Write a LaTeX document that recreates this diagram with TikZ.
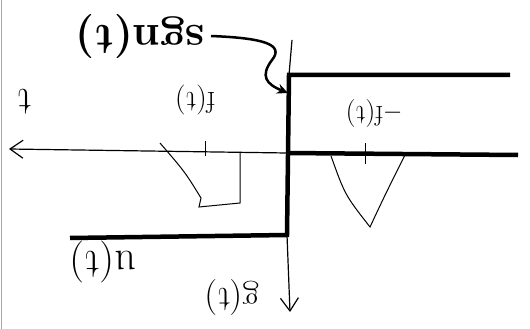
\documentclass[tikz,border=0pt]{standalone}
\usetikzlibrary{arrows.meta}
\begin{document}
\begin{tikzpicture}[x=1pt,y=-1pt,
  heavy/.style={line width=4.5pt, line join=miter},
  thinax/.style={line width=1.2pt},
  sketch/.style={line width=1pt},
  lbl/.style={rotate=180, inner sep=0pt},
  barb/.style={-{Straight Barb[length=13pt,width=18pt,line width=1.2pt]}},
]
\useasboundingbox (0,0) rectangle (530,329);
\draw[gray!70, line width=1pt] (1,0) -- (1,329);

% key points
\coordinate (xtip) at (9,149);
\coordinate (O) at (287,153);
\coordinate (ytop) at (292,40);
\coordinate (ytip) at (290,312);
\coordinate (jtop) at (289,75);
\coordinate (jbot) at (287,235);
\coordinate (upR) at (510,75);
\coordinate (midR) at (518,155);
\coordinate (lowL) at (70,238);

% axes
\draw[thinax, barb] (O) -- (xtip);
\draw[thinax] (ytop) -- (jtop);
\draw[thinax, barb] (jbot) -- (ytip);

% heavy graph
\draw[heavy] (upR) -- (jtop) -- (jbot) -- (lowL);
\draw[heavy] (O) -- (midR);

% ticks
\coordinate (t1a) at (205,141); \coordinate (t1b) at (205,156);
\coordinate (t2a) at (365,143); \coordinate (t2b) at (365,164);
\draw[sketch] (t1a) -- (t1b);
\draw[sketch] (t2a) -- (t2b);

% L-shaped sketch
\coordinate (La) at (160,143);
\coordinate (Lb) at (201,198);
\coordinate (Lc) at (199,207);
\coordinate (Ld) at (240,203);
\coordinate (Le) at (240,152);
\draw[sketch] (La) .. controls (185,172) .. (Lb) -- (Lc) -- (Ld) -- (Le);

% V sketch
\coordinate (Va) at (331,156);
\coordinate (Vb) at (370,227);
\coordinate (Vc) at (405,155);
\draw[sketch] (Va) .. controls (345,195) .. (Vb) .. controls (385,195) .. (Vc);

% labels (upside down, as drawn)
\node[lbl, font=\fontsize{44}{44}\selectfont\bfseries] (sgn) at (140,36) {sgn(t)};
\node[lbl, font=\fontsize{30}{30}\selectfont] (f) at (195,100) {f(t)};
\node[lbl, font=\fontsize{28}{28}\selectfont] (mf) at (374,113) {$-$f(t)};
\node[lbl, font=\fontsize{40}{40}\selectfont] (tl) at (24,102) {t};
\node[lbl, font=\fontsize{42}{42}\selectfont] (u) at (103,262) {u(t)};
\node[lbl, font=\fontsize{36}{36}\selectfont] (g) at (232,297) {g(t)};

% curved arrow from title to jump
\coordinate (hit) at (288,93);
\draw[line width=2.5pt, -{Stealth[length=11pt,width=10pt]}]
  (sgn.west) ++(6,0) .. controls (262,38) and (285,44) .. (272,60)
  .. controls (260,76) and (266,84) .. (hit);
\end{tikzpicture}
\end{document}
